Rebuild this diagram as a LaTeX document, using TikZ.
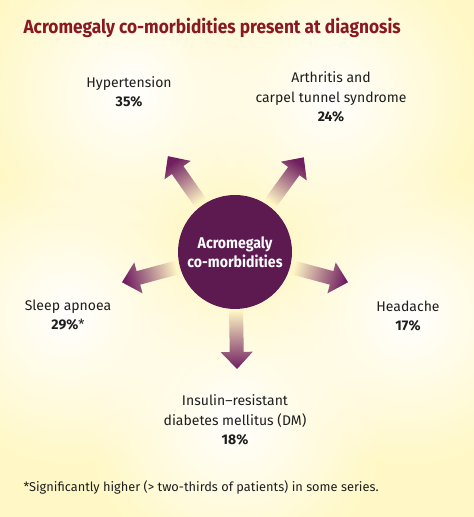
\documentclass[tikz,border=0pt]{standalone}
\usepackage{fontspec}
\setmainfont{Fira Sans}
\newfontfamily\narrowsans[FakeStretch=0.91]{Fira Sans}
\usetikzlibrary{positioning}
\usetikzlibrary{calc}
\usetikzlibrary{fadings}

\definecolor{bgyellow}{RGB}{255,248,198}
\definecolor{hubpurple}{RGB}{92,26,80}
\definecolor{arrowpurple}{RGB}{112,30,96}
\definecolor{titlered}{RGB}{138,24,32}
\definecolor{inkgray}{RGB}{30,30,30}

\tikzfading[name=glowfade, inner color=transparent!0, outer color=transparent!100]

\pgfdeclarelayer{background}
\pgfsetlayers{background,main}

% block arrow out of the hub, #1 = direction
\newcommand{\spokearrow}[1]{%
	\shade[top color=arrowpurple, bottom color=bgyellow, shading angle=#1-90]
	($(hub.center)+(#1:58)+(#1-90:7)$) -- ($(hub.center)+(#1:100)+(#1-90:7)$)
	-- ($(hub.center)+(#1:100)+(#1-90:16)$) -- ($(hub.center)+(#1:117)$)
	-- ($(hub.center)+(#1:100)+(#1+90:16)$) -- ($(hub.center)+(#1:100)+(#1+90:7)$)
	-- ($(hub.center)+(#1:58)+(#1+90:7)$) -- cycle;}

\begin{document}
\begin{tikzpicture}[x=1pt,y=1pt,
		itemtext/.style={align=center,text=inkgray,font=\fontsize{14}{19.5}\selectfont},
		glow/.style={white,path fading=glowfade}]
				    \useasboundingbox (0,0) rectangle (474,517);
				    % Place nodes
				    \node [anchor=west,text=titlered,font=\narrowsans\bfseries\fontsize{19}{23}\selectfont] (title) at (20,489) {Acromegaly co-morbidities present at diagnosis};
				    \node [circle,fill=hubpurple,minimum size=114pt,inner sep=0pt,align=center,text=white,
				           font=\narrowsans\bfseries\fontsize{15.5}{19}\selectfont] (hub) at (235,265) {Acromegaly\\co-morbidities};
				    \node [itemtext] (hyp) at (129,425) {Hypertension\\\textbf{35\%}};
				    \node [itemtext] (arth) at (331,420) {Arthritis and\\carpel tunnel syndrome\\\textbf{24\%}};
				    \node [itemtext] (sleep) at (68,202) {Sleep apnoea\\\textbf{29\%}*};
				    \node [itemtext] (head) at (408,201) {Headache\\\textbf{17\%}};
				    \node [itemtext] (dm) at (235,97) {Insulin--resistant\\diabetes mellitus (DM)\\\textbf{18\%}};
				    \node [anchor=west,text=inkgray,font=\fontsize{12.8}{15}\selectfont] (note) at (20,30) {*Significantly higher (> two-thirds of patients) in some series.};

					\begin{pgfonlayer}{background}
					\clip (0,0) rectangle (474,517);
					\fill [bgyellow] (0,0) rectangle (474,517);
					\fill [glow] (hyp) circle (150);
					\fill [glow] (arth) circle (150);
					\fill [glow] (sleep) circle (150);
					\fill [glow] (head) circle (150);
					\fill [glow] (dm) circle (150);
					\spokearrow{125}
					\spokearrow{54}
					\spokearrow{195}
					\spokearrow{-15}
					\spokearrow{-89}
					\end{pgfonlayer}
				\end{tikzpicture}
\end{document}
